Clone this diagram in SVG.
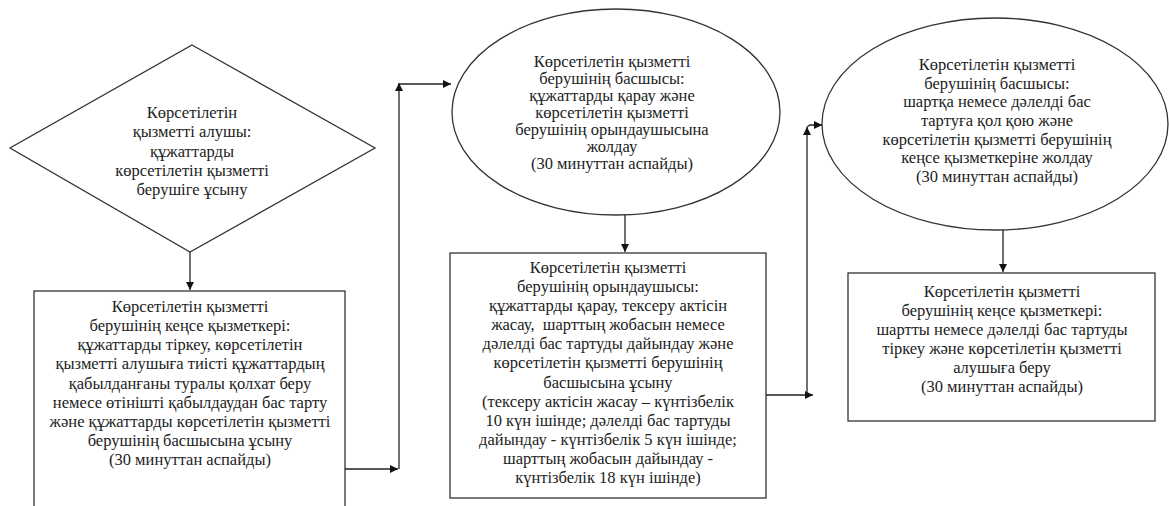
<svg xmlns="http://www.w3.org/2000/svg" width="1169" height="506" viewBox="0 0 1169 506">
<defs>
<marker id="ah" viewBox="0 0 10 10" refX="10" refY="5" markerWidth="8" markerHeight="8" markerUnits="userSpaceOnUse" orient="auto">
<path d="M0,0 L10,5 L0,10 z" fill="#111"/>
</marker>
<style>
.shape{fill:#fff;stroke:#333;stroke-width:1.3}
.conn{fill:none;stroke:#222;stroke-width:1.3;marker-end:url(#ah)}
.t text{fill:#222;text-anchor:middle}
</style>
</defs>
<rect width="1169" height="506" fill="#fff"/>
<g class="t" style="font-family:'Liberation Serif','Liberation Sans',Arial,sans-serif;font-size:16.5px">
<g id="n1">
<polygon class="shape" points="192,45 375,148 190,252 10,148"/>
<text x="192" y="118">Көрсетілетін</text>
<text x="192" y="137">қызметті алушы:</text>
<text x="192" y="157">құжаттарды</text>
<text x="192" y="176">көрсетілетін қызметті</text>
<text x="192" y="195">берушіге ұсыну</text>
</g>
<g id="n2">
<rect class="shape" x="34" y="291" width="311" height="230"/>
<text x="190" y="312">Көрсетілетін қызметті</text>
<text x="190" y="331">берушінің кеңсе қызметкері:</text>
<text x="190" y="350">құжаттарды тіркеу, көрсетілетін</text>
<text x="190" y="369">қызметті алушыға тиісті құжаттардың</text>
<text x="190" y="389">қабылданғаны туралы қолхат беру</text>
<text x="190" y="408">немесе өтінішті қабылдаудан бас тарту</text>
<text x="190" y="427">және құжаттарды көрсетілетін қызметті</text>
<text x="190" y="446">берушінің басшысына ұсыну</text>
<text x="190" y="465">(30 минуттан аспайды)</text>
</g>
<g id="n3">
<ellipse class="shape" cx="616" cy="112" rx="164" ry="103"/>
<text x="612" y="67">Көрсетілетін қызметті</text>
<text x="612" y="84">берушінің басшысы:</text>
<text x="612" y="101">құжаттарды қарау және</text>
<text x="612" y="118">көрсетілетін қызметті</text>
<text x="612" y="135">берушінің орындаушысына</text>
<text x="612" y="152">жолдау</text>
<text x="612" y="169">(30 минуттан аспайды)</text>
</g>
<g id="n4">
<rect class="shape" x="450" y="253" width="316" height="245"/>
<text x="608" y="273">Көрсетілетін қызметті</text>
<text x="608" y="292">берушінің орындаушысы:</text>
<text x="608" y="311">құжаттарды қарау, тексеру актісін</text>
<text x="608" y="330" xml:space="preserve">жасау,  шарттың жобасын немесе</text>
<text x="608" y="349">дәлелді бас тартуды дайындау және</text>
<text x="608" y="368">көрсетілетін қызметті берушінің</text>
<text x="608" y="388">басшысына ұсыну</text>
<text x="608" y="407">(тексеру актісін жасау – күнтізбелік</text>
<text x="608" y="426">10 күн ішінде; дәлелді бас тартуды</text>
<text x="608" y="445">дайындау - күнтізбелік 5 күн ішінде;</text>
<text x="608" y="464">шарттың жобасын дайындау -</text>
<text x="608" y="483">күнтізбелік 18 күн ішінде)</text>
</g>
<g id="n5">
<ellipse class="shape" cx="995" cy="124" rx="173" ry="106"/>
<text x="997" y="70">Көрсетілетін қызметті</text>
<text x="997" y="89">берушінің басшысы:</text>
<text x="997" y="107">шартқа немесе дәлелді бас</text>
<text x="997" y="126">тартуға қол қою және</text>
<text x="997" y="145">көрсетілетін қызметті берушінің</text>
<text x="997" y="163">кеңсе қызметкеріне жолдау</text>
<text x="997" y="182">(30 минуттан аспайды)</text>
</g>
<g id="n6">
<rect class="shape" x="848" y="273" width="307" height="148"/>
<text x="1002" y="297">Көрсетілетін қызметті</text>
<text x="1002" y="316">берушінің кеңсе қызметкері:</text>
<text x="1002" y="335">шартты немесе дәлелді бас тартуды</text>
<text x="1002" y="354">тіркеу және көрсетілетін қызметті</text>
<text x="1002" y="373">алушыға беру</text>
<text x="1002" y="392">(30 минуттан аспайды)</text>
</g>
</g>
<g id="connectors">
<line class="conn" x1="190" y1="252" x2="190" y2="290"/>
<line class="conn" x1="345" y1="469" x2="398" y2="469"/>
<line class="conn" x1="399" y1="469" x2="399" y2="83"/>
<line class="conn" x1="399" y1="84" x2="451" y2="84"/>
<line class="conn" x1="625" y1="215" x2="625" y2="252"/>
<line class="conn" x1="766" y1="395" x2="813" y2="395"/>
<line class="conn" x1="807" y1="395" x2="807" y2="127"/>
<polyline class="conn" points="807,127 810,125 822,125"/>
<line class="conn" x1="1003" y1="230" x2="1003" y2="272"/>
</g>
</svg>
